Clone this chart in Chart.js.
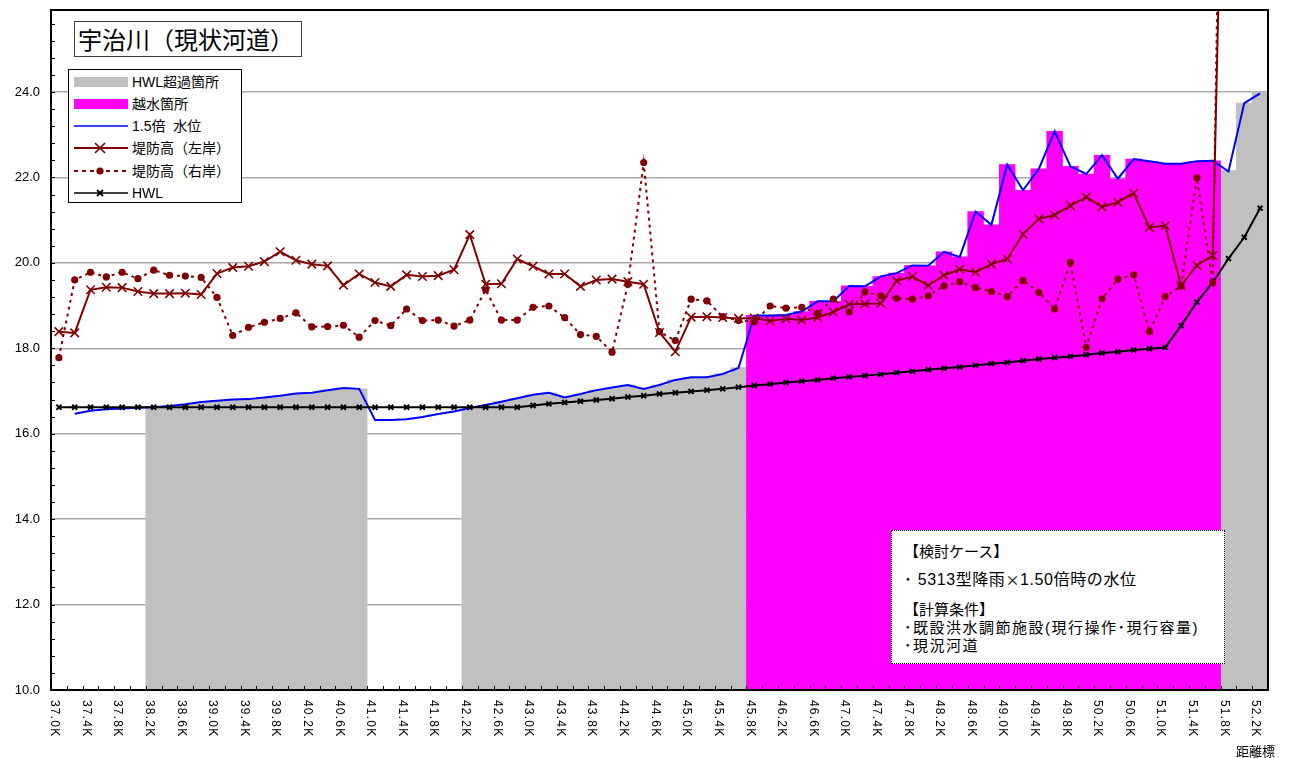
<!DOCTYPE html>
<html><head><meta charset="utf-8">
<script src="https://cdn.jsdelivr.net/npm/chart.js@4.4.0/dist/chart.umd.min.js"></script>
<style>
html,body{margin:0;padding:0;background:#fff;}
#wrap{position:relative;width:1291px;height:758px;overflow:hidden;font-family:"Liberation Sans","Noto Sans CJK JP",sans-serif;}
canvas{position:absolute;left:0;top:0;}
.box{position:absolute;background:#fff;box-sizing:border-box;}
#title{left:74px;top:21px;width:228px;height:36px;border:1.5px solid #404040;font-family:"Noto Sans CJK JP",sans-serif;font-size:24px;line-height:33px;padding-left:3px;white-space:nowrap;color:#000;}
#legend{left:68px;top:69px;width:174px;height:134px;border:1.5px solid #000;}
.row{position:absolute;left:3px;height:22px;width:170px;}
.row svg{position:absolute;left:1px;top:0;}
.row span{position:absolute;left:60px;top:0;line-height:22px;font-size:14px;white-space:pre;color:#000;}
#note{left:891px;top:530px;width:334px;height:134px;border:1px dotted #000;}
.nl{position:absolute;left:12px;white-space:pre;font-size:15px;line-height:18px;color:#000;font-family:"Liberation Sans","Noto Sans CJK JP",sans-serif;}
.sp{letter-spacing:1.5px;}
.cj{font-family:"Noto Sans CJK JP",sans-serif;font-size:14px;}
#xname{position:absolute;left:1236px;top:741px;font-size:13px;font-family:"Noto Sans CJK JP",sans-serif;color:#000;white-space:nowrap;}
</style></head>
<body><div id="wrap">
<canvas id="c" width="1291" height="758"></canvas>
<div id="title" class="box">宇治川（現状河道）</div>
<div id="legend" class="box">
 <div class="row" style="top:1px"><svg width="56" height="22"><rect x="1" y="6" width="54" height="10" fill="#c0c0c0"/></svg><span>HWL超過箇所</span></div>
 <div class="row" style="top:23px"><svg width="56" height="22"><rect x="1" y="6" width="54" height="10" fill="#ff00ff"/></svg><span>越水箇所</span></div>
 <div class="row" style="top:45px"><svg width="56" height="22"><line x1="1" y1="11" x2="55" y2="11" stroke="#0000ff" stroke-width="1.5"/></svg><span>1.5倍  水位</span></div>
 <div class="row" style="top:67px"><svg width="56" height="22"><line x1="1" y1="11" x2="55" y2="11" stroke="#800000" stroke-width="2"/><path d="M22 6 L32 16 M32 6 L22 16" stroke="#800000" stroke-width="1.6"/></svg><span>堤防高（左岸）</span></div>
 <div class="row" style="top:90px"><svg width="56" height="22"><line x1="1" y1="11" x2="55" y2="11" stroke="#800000" stroke-width="2" stroke-dasharray="4,4"/><circle cx="27" cy="11" r="3.6" fill="#800000"/></svg><span>堤防高（右岸）</span></div>
 <div class="row" style="top:112px"><svg width="56" height="22"><line x1="1" y1="11" x2="55" y2="11" stroke="#000" stroke-width="1.6"/><path d="M24 8 L30 14 M30 8 L24 14" stroke="#000" stroke-width="1.8"/></svg><span>HWL</span></div>
</div>
<div id="note" class="box">
 <div class="nl" style="top:12px">【検討ケース】</div>
 <div class="nl" style="top:39px;font-size:16px;letter-spacing:0.6px">･ 5313型降雨<span class="cj">×</span>1.50倍時の水位</div>
 <div class="nl" style="top:70px">【計算条件】</div>
 <div class="nl sp" style="top:88px">･既設洪水調節施設(現行操作･現行容量)</div>
 <div class="nl sp" style="top:106px">･現況河道</div>
</div>
<div id="xname">距離標</div>
</div>
<script>
const categories = ['37.0K','37.2K','37.4K','37.6K','37.8K','38.0K','38.2K','38.4K','38.6K','38.8K',
 '39.0K','39.2K','39.4K','39.6K','39.8K','40.0K','40.2K','40.4K','40.6K','40.8K',
 '41.0K','41.2K','41.4K','41.6K','41.8K','42.0K','42.2K','42.4K','42.6K','42.8K',
 '43.0K','43.2K','43.4K','43.6K','43.8K','44.0K','44.2K','44.4K','44.6K','44.8K',
 '45.0K','45.2K','45.4K','45.6K','45.8K','46.0K','46.2K','46.4K','46.6K','46.8K',
 '47.0K','47.2K','47.4K','47.6K','47.8K','48.0K','48.2K','48.4K','48.6K','48.8K',
 '49.0K','49.2K','49.4K','49.6K','49.8K','50.0K','50.2K','50.4K','50.6K','50.8K',
 '51.0K','51.2K','51.4K','51.6K','51.8K','52.0K','52.2K'];

const waterLevel = [null,16.47,16.54,16.57,16.59,16.61,16.62,16.65,16.69,16.74,
 16.77,16.80,16.81,16.85,16.89,16.94,16.96,17.02,17.07,17.05,
 16.32,16.32,16.34,16.39,16.46,16.52,16.60,16.67,16.75,16.83,
 16.91,16.96,16.85,16.93,17.02,17.08,17.14,17.05,17.14,17.26,
 17.32,17.32,17.40,17.54,18.77,18.77,18.78,18.86,19.10,19.10,
 19.46,19.45,19.68,19.76,19.94,19.93,20.26,20.14,21.20,20.89,
 22.30,21.70,22.20,23.08,22.26,22.08,22.52,21.97,22.43,22.38,
 22.32,22.32,22.38,22.39,22.14,23.74,23.97];

const leftBank = [18.39,18.36,19.37,19.43,19.42,19.33,19.28,19.28,19.29,19.26,
 19.75,19.89,19.92,20.03,20.26,20.06,19.97,19.93,19.48,19.74,
 19.54,19.45,19.72,19.68,19.70,19.84,20.66,19.50,19.51,20.09,
 19.92,19.74,19.74,19.45,19.60,19.62,19.56,19.50,18.37,17.92,
 18.73,18.74,18.72,18.70,18.71,18.64,18.69,18.66,18.72,18.85,
 19.03,19.04,19.05,19.58,19.68,19.47,19.71,19.85,19.78,19.97,
 20.09,20.67,21.03,21.12,21.34,21.54,21.31,21.42,21.63,20.83,
 20.87,19.47,19.94,20.17,36.5,null,null];

const rightBank = [17.78,19.60,19.78,19.67,19.78,19.63,19.83,19.71,19.69,19.66,
 19.19,18.30,18.49,18.61,18.70,18.83,18.50,18.51,18.54,18.26,
 18.65,18.53,18.92,18.65,18.66,18.52,18.66,19.37,18.66,18.66,
 18.96,18.99,18.72,18.32,18.28,17.91,19.50,22.35,18.39,18.18,
 19.15,19.11,18.74,18.65,18.62,18.99,18.94,18.96,18.82,19.15,
 18.85,19.32,19.23,19.17,19.15,19.23,19.46,19.56,19.42,19.33,
 19.21,19.59,19.31,18.92,20.01,18.02,19.16,19.62,19.72,18.39,
 19.21,19.46,21.99,19.53,42.5,null,null];

const hwl = [16.62,16.62,16.62,16.62,16.62,16.62,16.62,16.62,16.62,16.62,
 16.62,16.62,16.62,16.62,16.62,16.62,16.62,16.62,16.62,16.62,
 16.62,16.62,16.62,16.62,16.62,16.62,16.62,16.62,16.62,16.62,
 16.66,16.70,16.73,16.76,16.79,16.82,16.86,16.89,16.93,16.96,
 16.99,17.02,17.05,17.09,17.13,17.16,17.20,17.23,17.26,17.30,
 17.33,17.36,17.39,17.43,17.46,17.50,17.53,17.56,17.60,17.64,
 17.67,17.71,17.75,17.78,17.81,17.85,17.89,17.92,17.96,17.99,
 18.02,18.53,19.08,19.54,20.10,20.60,21.28];

const hwlExceed = [null,null,null,null,null,null,
 16.62,16.65,16.69,16.74,16.77,16.80,16.81,16.85,16.89,16.94,16.96,17.02,17.07,17.05,
 null,null,null,null,null,null,
 16.58,16.67,16.75,16.83,16.91,16.96,16.85,16.93,17.02,17.08,17.14,17.05,17.14,17.26,17.32,17.32,17.40,17.55,
 null,null,null,null,null,null,null,null,null,null,
 null,null,null,null,null,null,null,null,null,null,
 null,null,null,null,null,null,null,null,null,null,
 22.16,23.74,24.00];

const overflow = [null,null,null,null,null,null,null,null,null,null,
 null,null,null,null,null,null,null,null,null,null,
 null,null,null,null,null,null,null,null,null,null,
 null,null,null,null,null,null,null,null,null,null,
 null,null,null,null,
 18.77,18.77,18.78,18.86,19.10,19.10,19.46,19.45,19.68,19.76,
 19.94,19.93,20.26,20.14,21.20,20.89,22.30,21.70,22.20,23.08,
 22.26,22.08,22.52,21.97,22.43,22.38,22.32,22.32,22.38,22.39,
 null,null,null];

const yTickValues = [10.0,10.4,10.8,11.2,11.6,12.0,12.4,12.8,13.2,13.6,14.0,14.4,14.8,15.2,15.6,
 16.0,16.4,16.8,17.2,17.6,18.0,18.4,18.8,19.2,19.6,20.0,20.4,20.8,21.2,21.6,
 22.0,22.4,22.8,23.2,23.6,24.0,24.4,24.8,25.2,25.6];
const yMin = 10, yMax = 25.92, yMajor = 2;

function isMajor(v){ return Math.abs(v/yMajor - Math.round(v/yMajor)) < 1e-6; }

const framePlugin = {
  id:'frame',
  afterDraw(chart){
    const {ctx, chartArea:a, scales:{x, y}} = chart;
    ctx.save();
    ctx.strokeStyle='#000'; ctx.lineWidth=1;
    y.ticks.forEach(t=>{
      const py = Math.round(y.getPixelForValue(t.value))+0.5;
      ctx.beginPath(); ctx.moveTo(a.left, py); ctx.lineTo(a.left+4, py); ctx.stroke();
    });
    const n = categories.length;
    for (let i=1;i<n;i++){
      const px = Math.round((x.getPixelForValue(i-1)+x.getPixelForValue(i))/2)+0.5;
      ctx.beginPath(); ctx.moveTo(px, a.bottom); ctx.lineTo(px, a.bottom-4); ctx.stroke();
    }
    ctx.lineWidth=2; ctx.strokeStyle='#000';
    ctx.strokeRect(a.left, a.top, a.right-a.left, a.bottom-a.top);
    ctx.fillStyle='#000';
    ctx.font='12px "Liberation Sans", Arial, sans-serif';
    try{ ctx.letterSpacing='1.2px'; }catch(e){}
    ctx.textAlign='left'; ctx.textBaseline='middle';
    for (let i=0;i<n;i+=2){
      const px = x.getPixelForValue(i) - 4.5;
      ctx.save();
      ctx.translate(px, a.bottom+10);
      ctx.rotate(Math.PI/2);
      ctx.fillText(categories[i], 0, 0);
      ctx.restore();
    }
    ctx.restore();
  }
};

new Chart(document.getElementById('c'), {
  type:'bar',
  data:{
    labels: categories,
    datasets:[
      {type:'line', label:'堤防高（左岸）', data:leftBank, borderColor:'#800000', borderWidth:2,
       pointStyle:'crossRot', pointRadius:6, pointBorderWidth:1.6, pointBorderColor:'#800000',
       pointBackgroundColor:'#800000', tension:0, order:0},
      {type:'line', label:'堤防高（右岸）', data:rightBank, borderColor:'#800000', borderWidth:2, borderDash:[3,4],
       pointStyle:'circle', pointRadius:3.6, pointBorderWidth:0, pointBackgroundColor:'#800000',
       pointBorderColor:'#800000', tension:0, order:1},
      {type:'line', label:'HWL', data:hwl, borderColor:'#000', borderWidth:2,
       pointStyle:'crossRot', pointRadius:3.5, pointBorderWidth:2, pointBorderColor:'#000',
       pointBackgroundColor:'#000', tension:0, order:2},
      {type:'line', label:'1.5倍  水位', data:waterLevel, borderColor:'#0000ff', borderWidth:2,
       pointRadius:0, tension:0, order:3},
      {type:'bar', label:'越水箇所', data:overflow, backgroundColor:'#ff00ff', borderWidth:0,
       barPercentage:1, categoryPercentage:1, grouped:false, order:9},
      {type:'bar', label:'HWL超過箇所', data:hwlExceed, backgroundColor:'#c0c0c0', borderWidth:0,
       barPercentage:1, categoryPercentage:1, grouped:false, order:10}
    ]
  },
  options:{
    responsive:false, animation:false, devicePixelRatio:1,
    layout:{padding:{top:10, right:23, left:0, bottom:0}},
    plugins:{legend:{display:false}, tooltip:{enabled:false}, title:{display:false}},
    scales:{
      x:{offset:true, grid:{display:false}, border:{display:false}, ticks:{display:false},
         afterFit(s){ s.height = 68; s.paddingLeft = 0; s.paddingRight = 0; }},
      y:{min:yMin, max:yMax, bounds:'data', border:{display:false},
         afterBuildTicks(s){ s.ticks = yTickValues.map(v=>({value:v})); },
         ticks:{autoSkip:false, padding:11, color:'#000',
                font:{family:'"Liberation Sans", Arial, sans-serif', size:13},
                callback(v){ return isMajor(v) ? v.toFixed(1) : ''; }},
         grid:{drawTicks:false, lineWidth:1.5,
               color(c){ return (c.tick && isMajor(c.tick.value) && c.tick.value>yMin) ? '#aaaaaa' : 'rgba(0,0,0,0)'; }},
         afterFit(s){ s.width = 51; s.paddingTop = 0; s.paddingBottom = 0; }}
    }
  },
  plugins:[framePlugin]
});
</script>
</body></html>
